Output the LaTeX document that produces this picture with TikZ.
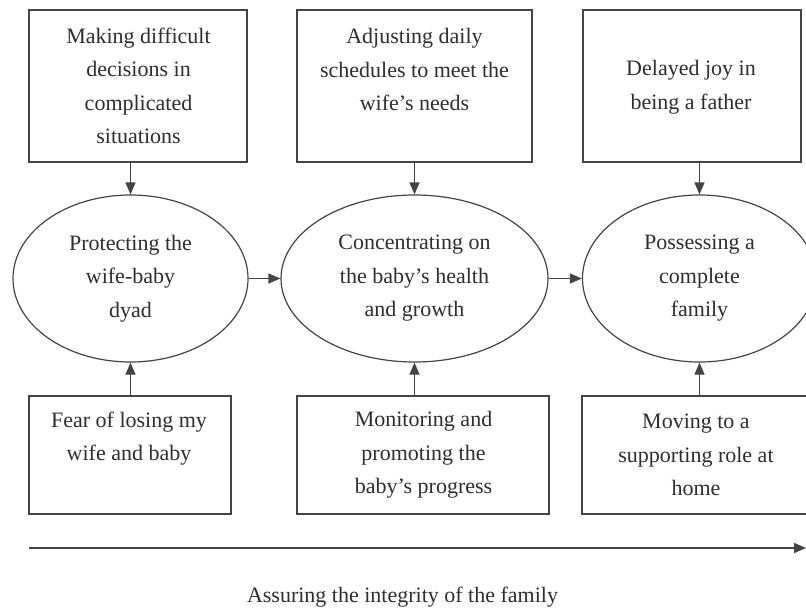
\documentclass[tikz,border=0pt]{standalone}
\usepackage{fontspec}
\setmainfont{Liberation Serif}
\usetikzlibrary{arrows.meta,shapes.geometric}
\definecolor{ln}{HTML}{444444}
\definecolor{tx}{HTML}{2E2E2E}
\begin{document}
\begin{tikzpicture}[x=1pt,y=-1pt,
  lbl/.style={align=center,text=tx,font=\fontsize{22}{33.5}\selectfont,inner sep=0pt},
  boxnode/.style={draw=ln,line width=1.3pt,rectangle,inner sep=0pt},
  ovalnode/.style={draw=ln,line width=1.2pt,ellipse,inner sep=0pt,minimum height=167pt,align=center,text=tx,font=\fontsize{22}{33.5}\selectfont},
  arr/.style={draw=ln,line width=1.2pt,-{Triangle[length=12pt,width=10pt]}}]
\fill[white] (0,0) rectangle (806,608);
\useasboundingbox (0,0) rectangle (806,608);
\clip (0,0) rectangle (806,608);
% top boxes
\node[boxnode,minimum width=218pt,minimum height=152pt] (t1) at (138,86) {};
\node[boxnode,minimum width=235pt,minimum height=152pt] (t2) at (414.5,86) {};
\node[boxnode,minimum width=218pt,minimum height=152pt] (t3) at (692,86) {};
\node[lbl] (t1txt) at (138.5,86) {Making difficult\\decisions in\\complicated\\situations};
\node[lbl] (t2txt) at (414.5,69.5) {Adjusting daily\\schedules to meet the\\wife’s needs};
\node[lbl] (t3txt) at (691,87) {Delayed joy in\\being a father};
% ellipses
\node[ovalnode,minimum width=235pt] (e1) at (130.5,278.5) {Protecting the\\wife-baby\\dyad};
\node[ovalnode,minimum width=267pt] (e2) at (414.5,278.5) {Concentrating on\\the baby’s health\\and growth};
\node[ovalnode,minimum width=234pt] (e3) at (699.5,278.5) {Possessing a\\complete\\family};
% bottom boxes
\node[boxnode,minimum width=202pt,minimum height=118pt] (b1) at (130,455) {};
\node[boxnode,minimum width=252pt,minimum height=118pt] (b2) at (423,455) {};
\node[boxnode,minimum width=236pt,minimum height=118pt] (b3) at (700,455) {};
\node[lbl] (b1txt) at (129,438.5) {Fear of losing my\\wife and baby};
\node[lbl] (b2txt) at (423.5,455) {Monitoring and\\promoting the\\baby’s progress};
\node[lbl] (b3txt) at (696,455) {Moving to a\\supporting role at\\home};
% connectors
\draw[arr] (t1.south -| e1.north) -- (e1.north);
\draw[arr] (t2.south -| e2.north) -- (e2.north);
\draw[arr] (t3.south -| e3.north) -- (e3.north);
\draw[arr] (b1.north -| e1.south) -- (e1.south);
\draw[arr] (b2.north -| e2.south) -- (e2.south);
\draw[arr] (b3.north -| e3.south) -- (e3.south);
\draw[arr] (e1.east) -- (e2.west);
\draw[arr] (e2.east) -- (e3.west);
% timeline
\coordinate (tlA) at (29,548);
\coordinate (tlB) at (806,548);
\draw[arr,line width=1.6pt] (tlA) -- (tlB);
\node[lbl] (cap) at (402.5,597) {Assuring the integrity of the family};
\end{tikzpicture}
\end{document}
